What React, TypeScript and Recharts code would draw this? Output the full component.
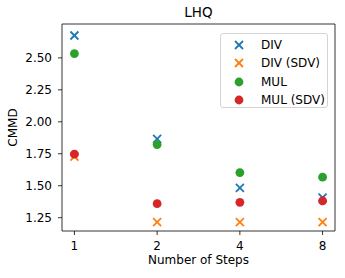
import React from 'react';
import { ScatterChart, Scatter, XAxis, YAxis, ReferenceArea, Legend } from 'recharts';

const STEPS = ['1', '2', '4', '8'];
const DIV = [2.675, 1.867, 1.483, 1.407];
const DIV_SDV = [1.728, 1.216, 1.216, 1.216];
const MUL = [2.534, 1.822, 1.603, 1.567];
const MUL_SDV = [1.747, 1.36, 1.37, 1.381];
const Y_TICKS = [1.25, 1.5, 1.75, 2.0, 2.25, 2.5];

const SERIES = [
  { name: 'DIV', values: DIV, color: '#1f77b4', marker: 'x' },
  { name: 'DIV (SDV)', values: DIV_SDV, color: '#ff7f0e', marker: 'x' },
  { name: 'MUL', values: MUL, color: '#2ca02c', marker: 'o' },
  { name: 'MUL (SDV)', values: MUL_SDV, color: '#d62728', marker: 'o' },
];

const FONT = '"DejaVu Sans", sans-serif';

function Marker({ cx, cy, color, marker }: any) {
  if (cx == null || cy == null) return null;
  if (marker === 'x') {
    const r = 4;
    return (
      <g stroke={color} strokeWidth={1.8}>
        <line x1={cx - r} y1={cy - r} x2={cx + r} y2={cy + r} />
        <line x1={cx - r} y1={cy + r} x2={cx + r} y2={cy - r} />
      </g>
    );
  }
  return <circle cx={cx} cy={cy} r={4.4} fill={color} />;
}

function LegendBox() {
  return (
    <div
      style={{
        width: 108,
        height: 75,
        boxSizing: 'border-box',
        border: '1px solid #d4d4d4',
        borderRadius: 3,
        background: 'rgba(255,255,255,0.8)',
        fontFamily: FONT,
        fontSize: 12,
        paddingTop: 2,
      }}
    >
      {SERIES.map((s) => (
        <div key={s.name} style={{ height: 18.3, display: 'flex', alignItems: 'center' }}>
          <svg width={40} height={18} style={{ flex: 'none' }}>
            <Marker cx={18} cy={9} color={s.color} marker={s.marker} />
          </svg>
          <span style={{ color: '#000' }}>{s.name}</span>
        </div>
      ))}
    </div>
  );
}

export default function App() {
  return (
    <div style={{ position: 'absolute', left: 0, top: 0, width: 345, height: 278, background: '#fff' }}>
      <div
        style={{
          position: 'absolute',
          left: 62,
          width: 273,
          top: 4,
          textAlign: 'center',
          fontFamily: FONT,
          fontSize: 13.5,
          color: '#000',
        }}
      >
        LHQ
      </div>
      <ScatterChart width={345} height={278} margin={{ top: 24, right: 10, bottom: 0, left: 0 }}>
        <XAxis
          type="number"
          dataKey="x"
          domain={[-0.15, 3.15]}
          ticks={[0, 1, 2, 3]}
          tickFormatter={(i: number) => STEPS[i]}
          height={47}
          axisLine={false}
          tickSize={4}
          tickMargin={6}
          tickLine={{ stroke: '#000', strokeWidth: 0.8 }}
          tick={{ fill: '#000', fontSize: 12, fontFamily: FONT }}
          allowDataOverflow
          label={{ value: 'Number of Steps', position: 'insideBottom', offset: 14, fill: '#000', fontSize: 12, fontFamily: FONT }}
        />
        <YAxis
          type="number"
          dataKey="y"
          domain={[1.146, 2.765]}
          ticks={Y_TICKS}
          tickFormatter={(v: number) => v.toFixed(2)}
          width={62}
          axisLine={false}
          tickSize={4}
          tickMargin={6}
          tickLine={{ stroke: '#000', strokeWidth: 0.8 }}
          tick={{ fill: '#000', fontSize: 12, fontFamily: FONT }}
          allowDataOverflow
          label={{ value: 'CMMD', angle: -90, position: 'inside', dx: -18, fill: '#000', fontSize: 12, fontFamily: FONT }}
        />
        <ReferenceArea x1={-0.15} x2={3.15} y1={1.146} y2={2.765} fill="none" stroke="#000" strokeWidth={0.8} />
        {SERIES.map((s) => (
          <Scatter
            key={s.name}
            name={s.name}
            data={STEPS.map((_, i) => ({ x: i, y: s.values[i] }))}
            isAnimationActive={false}
            shape={(p: any) => <Marker cx={p.cx} cy={p.cy} color={s.color} marker={s.marker} />}
          />
        ))}
        <Legend
          layout="vertical"
          align="center"
          verticalAlign="middle"
          wrapperStyle={{ left: 220, top: 33, width: 109, height: 76 }}
          content={() => <LegendBox />}
        />
      </ScatterChart>
    </div>
  );
}
